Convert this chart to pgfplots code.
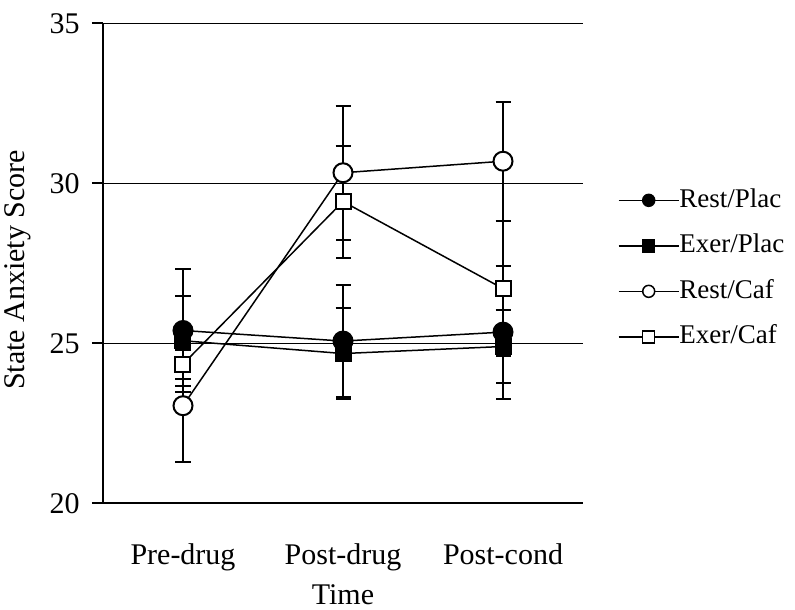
\documentclass[border=0pt]{standalone}
\usepackage{fontspec}
\setmainfont{Liberation Serif}
\usepackage{pgfplots}
\pgfplotsset{compat=1.18}
\begin{document}
\fontsize{15}{17}\selectfont
\begin{tikzpicture}
\begin{axis}[
  scale only axis, width=240pt, height=240pt,
  xmin=-0.5, xmax=2.5, ymin=20, ymax=35,
  axis lines*=left,
  axis line style={line width=1pt},
  xtick={0,1,2}, xticklabels={Pre-drug,Post-drug,Post-cond},
  major x tick style={draw=none},
  ytick={20,25,30,35},
  ymajorgrids, grid style={black, line width=0.5pt},
  tick align=outside, major tick length=5.5pt,
  major y tick style={line width=1pt, black},
  /pgf/number format/assume math mode=true,
  tick label style={font=\fontsize{15}{17}\selectfont},
  xticklabel style={yshift=-9.5pt},
  yticklabel style={xshift=-1pt},
  xlabel={Time}, ylabel={State Anxiety Score},
  label style={font=\fontsize{15}{17}\selectfont},
  xlabel style={at={(axis description cs:0.5,0)}, anchor=base, yshift=-50.8pt},
  ylabel style={at={(axis description cs:-0.178,0.486)}, anchor=center},
  legend style={draw=none, fill=none, at={(axis description cs:1.072,0.489)}, anchor=west,
    inner sep=0pt, font=\fontsize{13.5}{16}\selectfont,
    nodes={inner sep=0pt, text height=10pt, text depth=3pt, anchor=west},
    row sep=9.75pt, /tikz/column 2/.style={column sep=9.5pt}},
  legend cell align=left,
  clip=false,
]
\addplot[black, line width=0.75pt, mark=*, mark size=4.75pt, mark options={fill=black, line width=1pt},
  legend image code/.code={\draw[line width=0.75pt] (0pt,0pt) -- (30pt,0pt); \draw[line width=0.75pt, fill=black] (15pt,0pt) circle (3pt);},
  error bars/.cd, y dir=both, y explicit, error bar style={line width=1pt},
  error mark options={rotate=90, mark size=3.75pt, line width=1pt}]
  coordinates {(0,25.4) +- (0,1.92) (1,25.07) +- (0,1.75) (2,25.35) +- (0,2.08)};
\addlegendentry{Rest/Plac}
\addplot[black, line width=0.75pt, mark=square*, mark size=3.75pt, mark options={fill=black, line width=1pt},
  legend image code/.code={\draw[line width=0.75pt] (0pt,0pt) -- (30pt,0pt); \draw[line width=0.75pt, fill=black] (12pt,-3pt) rectangle (18pt,3pt);},
  error bars/.cd, y dir=both, y explicit, error bar style={line width=1pt},
  error mark options={rotate=90, mark size=3.75pt, line width=1pt}]
  coordinates {(0,25.08) +- (0,1.41) (1,24.68) +- (0,1.42) (2,24.9) +- (0,1.13)};
\addlegendentry{Exer/Plac}
\addplot[black, line width=0.75pt, mark=*, mark size=4.75pt, mark options={fill=white, line width=1pt},
  legend image code/.code={\draw[line width=0.75pt] (0pt,0pt) -- (30pt,0pt); \draw[line width=0.75pt, fill=white] (15pt,0pt) circle (3pt);},
  error bars/.cd, y dir=both, y explicit, error bar style={line width=1pt},
  error mark options={rotate=90, mark size=3.75pt, line width=1pt}]
  coordinates {(0,23.05) +- (0,1.75) (1,30.33) +- (0,2.1) (2,30.69) +- (0,1.86)};
\addlegendentry{Rest/Caf}
\addplot[black, line width=0.75pt, mark=square*, mark size=3.75pt, mark options={fill=white, line width=1pt},
  legend image code/.code={\draw[line width=0.75pt] (0pt,0pt) -- (30pt,0pt); \draw[line width=0.75pt, fill=white] (12pt,-3pt) rectangle (18pt,3pt);},
  error bars/.cd, y dir=both, y explicit, error bar style={line width=1pt},
  error mark options={rotate=90, mark size=3.75pt, line width=1pt}]
  coordinates {(0,24.35) +- (0,0.45) (1,29.43) +- (0,1.75) (2,26.71) +- (0,2.12)};
\addlegendentry{Exer/Caf}
\end{axis}
\pgfresetboundingbox
\path (current axis.south west) ++(-51.5pt,-52.85pt) rectangle ++(397.5pt,304.5pt);
\end{tikzpicture}
\end{document}
